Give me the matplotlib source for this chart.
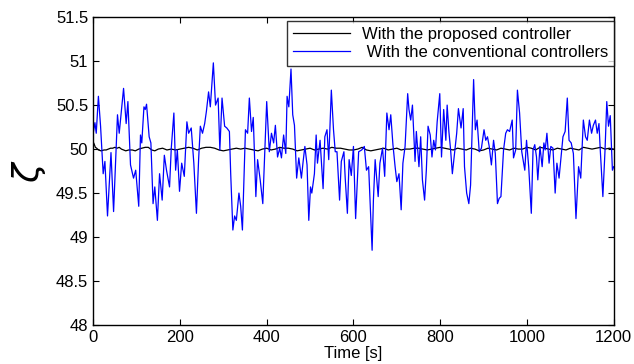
import matplotlib.pyplot as plt
import numpy as np

plt.rcParams['font.family'] = ['Liberation Sans', 'DejaVu Sans']

# conventional controllers (blue)
t_conv = [0, 4, 7, 12, 17, 23, 27, 33, 41, 47, 56, 60, 70, 76, 80, 86, 93, 98,
          105, 109, 112, 117, 120, 123, 129, 133, 138, 142, 148, 153, 159, 164,
          169, 176, 180, 186, 190, 194, 199, 204, 210, 216, 220, 226, 232, 238,
          243, 247, 252, 257, 261, 266, 270, 277, 282, 288, 292, 297, 303, 308,
          314, 317, 322, 326, 330, 336, 340, 344, 347, 351, 356, 360, 365, 369,
          375, 379, 385, 391, 400, 406, 411, 416, 420, 425, 430, 434, 439, 444,
          447, 451, 456, 460, 464, 469, 474, 480, 484, 488, 493, 497, 501, 504,
          510, 514, 517, 523, 530, 534, 539, 543, 549, 554, 558, 562, 568, 572,
          578, 581, 586, 590, 595, 600, 605, 612, 619, 625, 630, 635, 643, 646,
          650, 657, 661, 667, 672, 677, 682, 686, 691, 696, 700, 705, 710, 714,
          719, 725, 728, 732, 736, 742, 745, 751, 755, 759, 764, 768, 772, 777,
          781, 785, 789, 793, 799, 803, 808, 813, 816, 820, 824, 828, 833, 838,
          842, 848, 853, 856, 861, 866, 870, 877, 881, 885, 890, 895, 901, 905,
          909, 913, 918, 923, 927, 932, 936, 940, 946, 951, 955, 960, 966, 969,
          974, 978, 983, 988, 995, 999, 1004, 1010, 1014, 1018, 1022, 1025, 1030,
          1035, 1039, 1042, 1046, 1051, 1055, 1060, 1065, 1069, 1074, 1078, 1083,
          1088, 1093, 1097, 1102, 1107, 1113, 1119, 1124, 1130, 1135, 1139, 1144,
          1149, 1153, 1158, 1162, 1166, 1169, 1175, 1180, 1184, 1188, 1192, 1197,
          1200]
v_conv = [50.18, 50.30, 50.18, 50.60, 50.26, 49.72, 49.86, 49.24, 49.96, 49.29,
          50.39, 50.18, 50.69, 50.29, 50.54, 49.82, 49.67, 49.76, 49.35, 50.16,
          50.07, 50.48, 50.45, 50.51, 50.14, 50.07, 49.38, 49.57, 49.19, 49.72,
          49.42, 49.93, 49.76, 49.57, 50.01, 50.41, 49.76, 49.99, 49.52, 49.84,
          49.69, 50.31, 50.18, 50.24, 49.84, 49.27, 49.88, 50.26, 50.18, 50.29,
          50.43, 50.65, 50.48, 50.98, 50.50, 50.58, 49.99, 50.58, 50.26, 50.24,
          50.20, 49.72, 49.08, 49.24, 49.19, 49.50, 49.35, 49.08, 49.57, 50.22,
          50.18, 50.58, 50.20, 50.36, 49.46, 49.88, 49.65, 49.38, 50.54, 49.97,
          50.18, 50.07, 50.27, 49.91, 50.01, 49.90, 50.16, 49.95, 50.60, 50.48,
          50.91, 50.39, 50.27, 49.67, 49.90, 49.67, 49.86, 50.03, 49.82, 49.19,
          49.57, 49.50, 49.72, 50.16, 49.84, 50.10, 49.55, 50.14, 50.22, 49.88,
          50.67, 50.22, 49.97, 49.97, 49.42, 49.86, 49.97, 49.67, 49.27, 49.88,
          49.70, 50.03, 49.21, 49.97, 49.99, 50.03, 49.76, 49.80, 48.85, 49.42,
          49.88, 49.46, 49.84, 50.01, 49.69, 50.41, 50.22, 50.39, 50.05, 49.80,
          49.63, 49.72, 49.31, 49.84, 50.03, 50.63, 50.45, 50.33, 50.50, 49.86,
          50.20, 49.80, 50.14, 49.65, 49.42, 49.76, 50.26, 50.16, 49.91, 50.10,
          49.99, 50.31, 50.63, 49.91, 50.45, 50.10, 50.50, 50.20, 49.99, 49.72,
          49.95, 50.18, 50.46, 50.24, 50.46, 49.80, 49.50, 49.38, 49.59, 50.79,
          50.22, 50.33, 49.97, 50.01, 50.22, 50.10, 50.14, 50.03, 49.82, 50.10,
          49.95, 49.38, 49.44, 49.46, 49.99, 50.18, 50.22, 50.20, 50.33, 49.90,
          49.99, 50.67, 50.41, 49.97, 49.76, 50.10, 49.80, 49.27, 49.99, 50.05,
          49.91, 49.65, 50.03, 49.80, 50.07, 49.99, 50.18, 49.84, 50.03, 50.01,
          49.50, 49.84, 49.67, 49.88, 50.14, 50.20, 50.58, 50.10, 50.07, 49.95,
          49.21, 49.80, 49.67, 50.33, 50.14, 50.10, 50.33, 50.18, 50.27, 50.33,
          50.18, 50.29, 49.99, 49.46, 49.99, 50.54, 50.26, 50.38, 49.76, 49.80]

# proposed controller (black), stays close to 50 with a small jitter
t_prop = [0, 2, 5, 8, 12, 18, 25, 30, 35, 40, 45, 50, 55, 60, 65, 70, 75, 82,
          90, 97, 105, 112, 120, 127, 135, 142, 150, 160, 170, 180, 190, 200,
          210, 220, 230, 240, 250, 260, 270, 280, 290, 300, 310, 320, 330, 340,
          350, 360, 370, 380, 390, 400, 410, 420, 430, 440, 450, 460, 470, 480,
          490, 500, 510, 520, 530, 540, 550, 560, 570, 580, 590, 600, 610, 620,
          630, 640, 650, 660, 670, 680, 690, 700, 710, 720, 730, 740, 750, 760,
          770, 780, 790, 800, 810, 820, 830, 840, 850, 860, 870, 880, 890, 900,
          910, 920, 930, 940, 950, 960, 970, 980, 990, 1000, 1010, 1020, 1030,
          1040, 1050, 1060, 1070, 1080, 1090, 1100, 1110, 1120, 1130, 1140, 1150,
          1160, 1170, 1180, 1190, 1200]
v_prop = [50.08, 50.06, 50.02, 50.01, 49.99, 49.98, 49.99, 49.99, 50.00, 50.01,
          50.01, 50.02, 50.01, 50.02, 50.00, 49.99, 49.98, 49.99, 49.99, 49.98,
          50.00, 50.01, 50.02, 50.02, 49.99, 49.98, 50.00, 50.01, 49.99, 50.00,
          49.99, 50.00, 50.01, 50.02, 50.01, 49.99, 50.01, 50.02, 50.02, 50.01,
          49.99, 49.98, 49.99, 50.00, 50.01, 50.00, 50.01, 50.00, 49.99, 49.98,
          50.00, 50.01, 49.99, 50.00, 50.02, 50.01, 50.01, 50.00, 49.98, 49.99,
          50.00, 50.01, 49.99, 50.00, 50.01, 50.00, 50.02, 50.01, 50.01, 50.00,
          49.99, 49.99, 50.00, 50.02, 49.99, 49.98, 49.99, 50.00, 50.01, 49.99,
          50.00, 50.01, 49.99, 50.00, 50.00, 50.01, 50.01, 50.00, 49.99, 50.00,
          50.01, 50.02, 50.01, 50.00, 49.99, 50.01, 50.00, 49.99, 50.01, 50.00,
          49.98, 49.99, 50.01, 50.00, 49.99, 50.01, 50.00, 49.99, 50.01, 50.00,
          50.00, 50.02, 50.01, 49.99, 50.02, 50.01, 50.00, 49.99, 50.01, 50.00,
          49.99, 50.01, 50.00, 49.99, 50.02, 50.01, 50.00, 50.01, 50.02, 50.00,
          50.01, 50.00]

fig = plt.figure(figsize=(6.34, 3.64), dpi=100)
ax = fig.add_axes([0.147, 0.107, 0.821, 0.846])

ax.plot(t_prop, v_prop, color='black', lw=0.9, label='With the proposed controller')
ax.plot(t_conv, v_conv, color='#0000ff', lw=0.9, label=' With the conventional controllers')

ax.set_xlim(0, 1200)
ax.set_ylim(48, 51.5)
ax.set_xticks(np.arange(0, 1201, 200))
ax.set_yticks([48, 48.5, 49, 49.5, 50, 50.5, 51, 51.5])
ax.set_yticklabels(['48', '48.5', '49', '49.5', '50', '50.5', '51', '51.5'])
ax.tick_params(direction='in', top=True, right=True, labelsize=12, length=4)
for s in ax.spines.values():
    s.set_linewidth(1.0)

ax.set_xlabel('Time [s]', fontsize=12, labelpad=1)
ax.set_ylabel(r'$\zeta$', fontsize=26, labelpad=6)

leg = ax.legend(loc='upper right', bbox_to_anchor=(1.0, 0.987), fontsize=12,
                frameon=True, fancybox=False, borderaxespad=0,
                handlelength=3.4, borderpad=0.35, labelspacing=0.2,
                handletextpad=0.7)
leg.get_frame().set_edgecolor('black')
leg.get_frame().set_linewidth(1.0)

fig.savefig('out.png', dpi=100)
